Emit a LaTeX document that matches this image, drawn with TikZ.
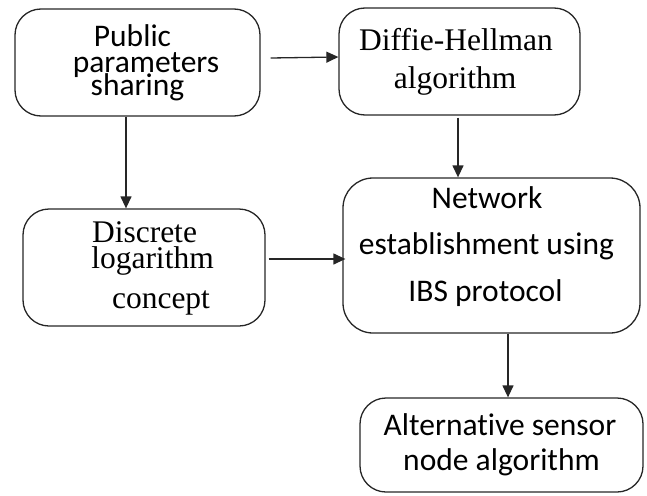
\documentclass[tikz,border=0pt]{standalone}
\usepackage{fontspec}
\setmainfont{Liberation Serif}
\newfontfamily\calib[Ligatures=NoCommon]{Carlito}
\usetikzlibrary{arrows.meta,calc}
\begin{document}
\begin{tikzpicture}[x=1pt,y=-1pt,
  box/.style={draw=black!85, line width=1.3pt, rounded corners=26pt, inner sep=0pt},
  sans/.style={font=\calib\fontsize{31.5}{36}\selectfont, anchor=base, inner sep=0pt, text=black},
  serif/.style={font=\fontsize{31.5}{36}\selectfont, anchor=base, inner sep=0pt, text=black},
  arr/.style={draw=black!85, line width=1.3pt, -{Triangle[length=12pt,width=11pt]}}]
\useasboundingbox (0,0) rectangle (647,495);
% boxes
\node[box, minimum width=245pt, minimum height=107pt] (b1) at (137.5,62.5) {};
\node[box, minimum width=241pt, minimum height=107pt] (b2) at (459.5,61.5) {};
\node[box, minimum width=242pt, minimum height=117pt] (b3) at (144,267.5) {};
\node[box, minimum width=297pt, minimum height=155pt, rounded corners=30pt] (b4) at (491.5,255.5) {};
\node[box, minimum width=283pt, minimum height=94pt] (b5) at (501.5,445) {};
% texts
\node[sans] (t1a) at (132.5,47) {Public};
\node[sans] (t1b) at (146,72) {parameters};
\node[sans] (t1c) at (137.5,95) {sharing};
\node[serif] (t2a) at (456,50) {Diffie-Hellman};
\node[serif] (t2b) at (455,88) {algorithm};
\node[serif] (t3a) at (144.5,242) {Discrete};
\node[serif] (t3b) at (152.5,268) {logarithm};
\node[serif] (t3c) at (161,308) {concept};
\node[sans] (t4a) at (487,208) {Network};
\node[sans] (t4b) at (486.5,254) {establishment using};
\node[sans] (t4c) at (485.5,301.5) {IBS protocol};
\node[sans] (t5a) at (500,435) {Alternative sensor};
\node[sans] (t5b) at (501.5,470) {node algorithm};
% arrows
\draw[arr] ([xshift=10pt,yshift=4.5pt]b1.east) -- ([yshift=4.5pt]b2.west);
\draw[arr] ([xshift=-11.5pt]b1.south) -- ([xshift=-11.5pt]b1.south |- b3.north);
\draw[arr] ([xshift=-1.5pt,yshift=-2pt]b2.south) -- ([xshift=-1.5pt]b2.south |- b4.north);
\draw[arr] ([xshift=3pt,yshift=8.5pt]b3.east) -- ([xshift=3pt,yshift=8.5pt]b3.east -| b4.west);
\draw[arr] ([xshift=16.5pt]b4.south) -- ([xshift=16.5pt]b4.south |- b5.north);
\end{tikzpicture}
\end{document}
